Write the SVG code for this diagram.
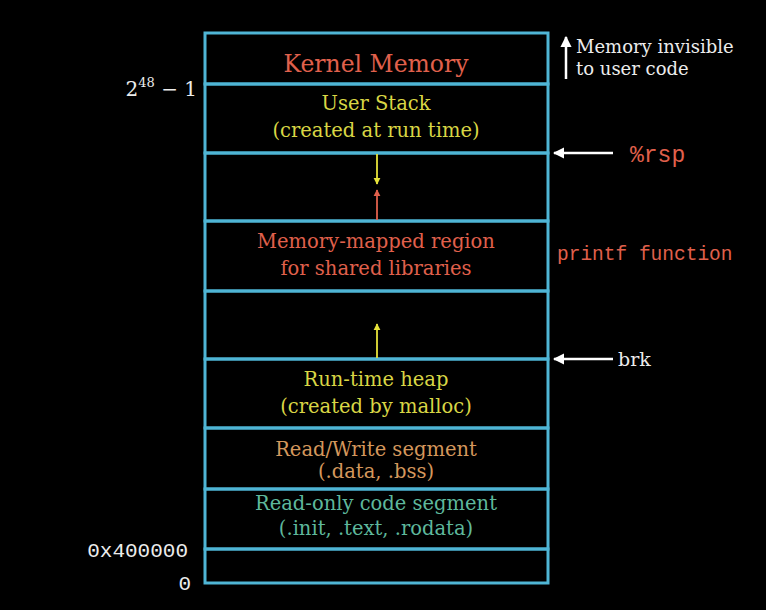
<svg xmlns="http://www.w3.org/2000/svg" width="766" height="610" viewBox="0 0 766 610">
  <style>
    .seg { fill: none; stroke: #4fb5d5; stroke-width: 3; }
    .serif { font-family: "DejaVu Serif", "Liberation Serif", "Times New Roman", serif; }
    .t { text-anchor: middle; font-size: 19.5px; }
    .mono { font-family: "Liberation Mono", "DejaVu Sans Mono", monospace; }
    .white { fill: #ececec; }
    .red { fill: #e0604c; }
    .yellow { fill: #d9d645; }
    .orange { fill: #d4975c; }
    .teal { fill: #5eb89c; }
  </style>
  <defs>
    <marker id="headY" viewBox="0 0 10 10" refX="9" refY="5" markerWidth="4" markerHeight="4" orient="auto">
      <path d="M0,0 L10,5 L0,10 z" fill="#e6e23a"/>
    </marker>
    <marker id="headR" viewBox="0 0 10 10" refX="9" refY="5" markerWidth="4" markerHeight="4" orient="auto">
      <path d="M0,0 L10,5 L0,10 z" fill="#e0604c"/>
    </marker>
    <marker id="headW" viewBox="0 0 10 10" refX="9" refY="5" markerWidth="4.5" markerHeight="4.5" orient="auto">
      <path d="M0,0 L10,5 L0,10 z" fill="#ffffff"/>
    </marker>
  </defs>
  <rect width="766" height="610" fill="#000"/>

  <!-- memory layout column -->
  <g id="kernel">
    <rect class="seg" x="205" y="33" width="343" height="51"/>
    <text class="serif t red" x="376" y="72" style="font-size:23.5px">Kernel Memory</text>
  </g>
  <g id="user-stack">
    <rect class="seg" x="205" y="84" width="343" height="69"/>
    <text class="serif t yellow" x="376" y="110">User Stack</text>
    <text class="serif t yellow" x="376" y="137">(created at run time)</text>
  </g>
  <g id="gap-stack">
    <rect class="seg" x="205" y="153" width="343" height="68"/>
  </g>
  <g id="mmap">
    <rect class="seg" x="205" y="221" width="343" height="70"/>
    <text class="serif t red" x="376" y="248">Memory-mapped region</text>
    <text class="serif t red" x="376" y="275">for shared libraries</text>
  </g>
  <g id="gap-heap">
    <rect class="seg" x="205" y="291" width="343" height="68"/>
  </g>
  <g id="heap">
    <rect class="seg" x="205" y="359" width="343" height="69"/>
    <text class="serif t yellow" x="376" y="386">Run-time heap</text>
    <text class="serif t yellow" x="376" y="413">(created by malloc)</text>
  </g>
  <g id="rw-segment">
    <rect class="seg" x="205" y="428" width="343" height="61"/>
    <text class="serif t orange" x="376" y="456">Read/Write segment</text>
    <text class="serif t orange" x="376" y="478">(.data, .bss)</text>
  </g>
  <g id="ro-segment">
    <rect class="seg" x="205" y="489" width="343" height="60"/>
    <text class="serif t teal" x="376" y="510">Read-only code segment</text>
    <text class="serif t teal" x="376" y="535">(.init, .text, .rodata)</text>
  </g>
  <g id="reserved">
    <rect class="seg" x="205" y="549" width="343" height="34"/>
  </g>

  <!-- address labels -->
  <g id="addr-top">
    <text x="197" y="96" class="serif white" font-size="20" text-anchor="end">2<tspan dy="-9" font-size="13">48</tspan><tspan dy="9"> − 1</tspan></text>
  </g>
  <g id="addr-text">
    <text x="188" y="557" class="white mono" font-size="21" text-anchor="end">0x400000</text>
  </g>
  <g id="addr-zero">
    <text x="191" y="590" class="white mono" font-size="21" text-anchor="end">0</text>
  </g>

  <!-- side notes -->
  <g id="note-kernel">
    <text x="576" y="53" class="serif white" font-size="18">Memory invisible</text>
    <text x="576" y="75" class="serif white" font-size="18">to user code</text>
  </g>
  <g id="note-rsp">
    <text x="630" y="162" class="red mono" font-size="23">%rsp</text>
  </g>
  <g id="note-printf">
    <text x="557" y="260" class="red mono" font-size="19.5">printf function</text>
  </g>
  <g id="note-brk">
    <text x="618" y="366" class="serif white" font-size="19">brk</text>
  </g>

  <!-- connectors -->
  <g id="connectors" fill="none">
    <line x1="377" y1="154" x2="377" y2="184" stroke="#e6e23a" stroke-width="1.8" marker-end="url(#headY)"/>
    <line x1="377" y1="220" x2="377" y2="190" stroke="#e0604c" stroke-width="1.8" marker-end="url(#headR)"/>
    <line x1="377" y1="358" x2="377" y2="324" stroke="#e6e23a" stroke-width="1.8" marker-end="url(#headY)"/>
    <line x1="566" y1="79" x2="566" y2="37" stroke="#ffffff" stroke-width="2.5" marker-end="url(#headW)"/>
    <line x1="613" y1="153" x2="554" y2="153" stroke="#ffffff" stroke-width="2.5" marker-end="url(#headW)"/>
    <line x1="613" y1="359" x2="554" y2="359" stroke="#ffffff" stroke-width="2.5" marker-end="url(#headW)"/>
  </g>
</svg>
